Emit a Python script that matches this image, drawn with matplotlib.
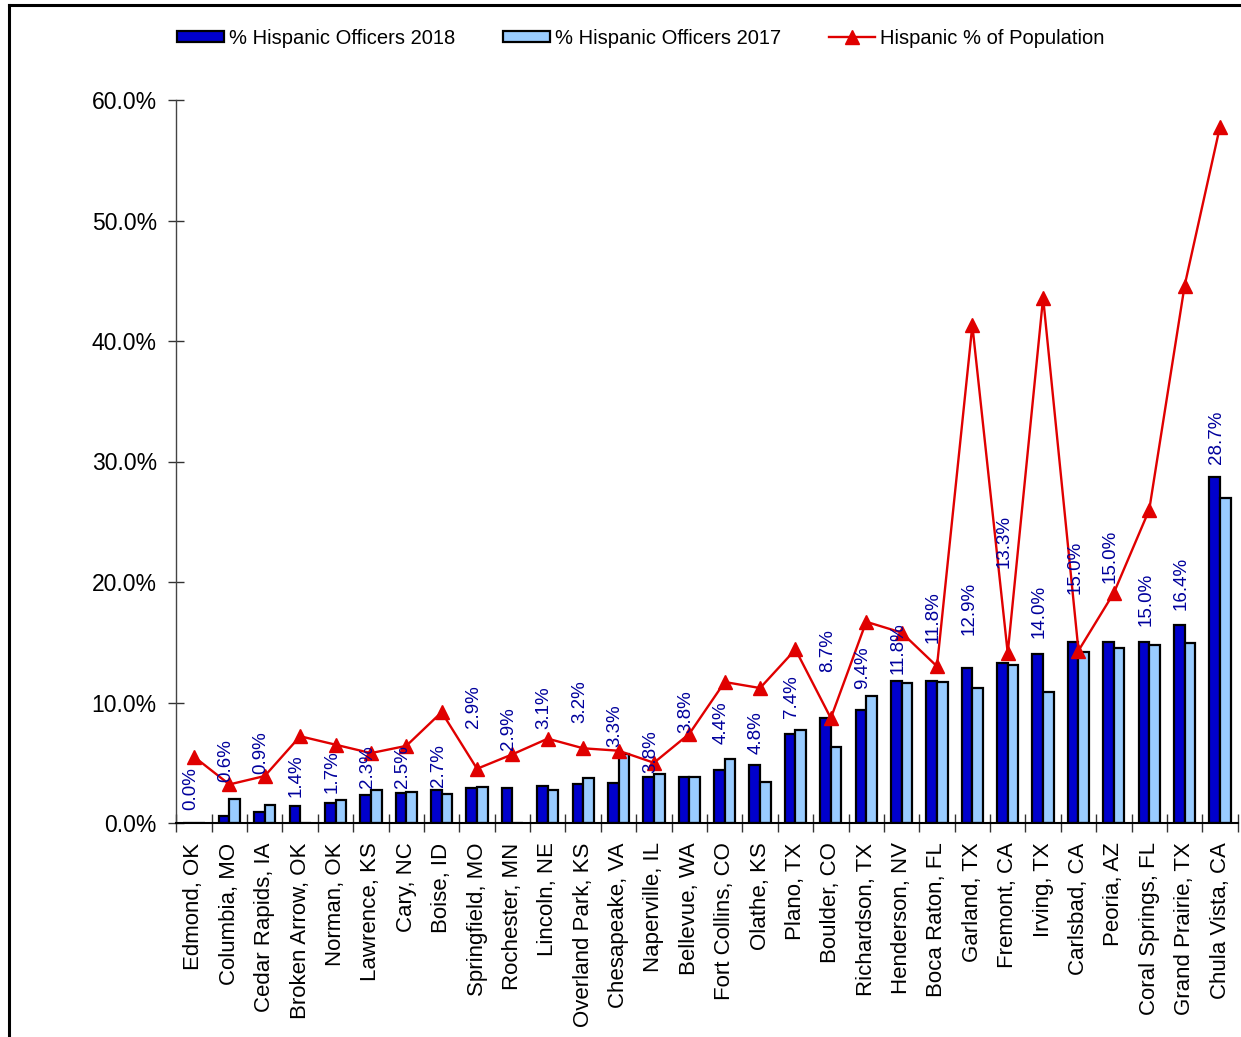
import numpy as np
import matplotlib
matplotlib.use('Agg')
import matplotlib.pyplot as plt
from matplotlib.lines import Line2D
from matplotlib.patches import Patch
from matplotlib.ticker import FuncFormatter, FixedLocator

plt.rcParams['font.family'] = ['Liberation Sans', 'DejaVu Sans']

# %%
# Data
cities = ['Edmond, OK', 'Columbia, MO', 'Cedar Rapids, IA', 'Broken Arrow, OK', 'Norman, OK',
          'Lawrence, KS', 'Cary, NC', 'Boise, ID', 'Springfield, MO', 'Rochester, MN',
          'Lincoln, NE', 'Overland Park, KS', 'Chesapeake, VA', 'Naperville, IL', 'Bellevue, WA',
          'Fort Collins, CO', 'Olathe, KS', 'Plano, TX', 'Boulder, CO', 'Richardson, TX',
          'Henderson, NV', 'Boca Raton, FL', 'Garland, TX', 'Fremont, CA', 'Irving, TX',
          'Carlsbad, CA', 'Peoria, AZ', 'Coral Springs, FL', 'Grand Prairie, TX', 'Chula Vista, CA']

officers_2018 = [0.0, 0.6, 0.9, 1.4, 1.7, 2.3, 2.5, 2.7, 2.9, 2.9,
                 3.1, 3.2, 3.3, 3.8, 3.8, 4.4, 4.8, 7.4, 8.7, 9.4,
                 11.8, 11.8, 12.9, 13.3, 14.0, 15.0, 15.0, 15.0, 16.4, 28.7]

officers_2017 = [0.0, 2.0, 1.5, 0.0, 1.9, 2.7, 2.6, 2.4, 3.0, 0.0,
                 2.7, 3.7, 5.7, 4.1, 3.8, 5.3, 3.4, 7.7, 6.3, 10.5,
                 11.6, 11.7, 11.2, 13.1, 10.9, 14.2, 14.5, 14.8, 14.9, 27.0]

population = [5.5, 3.2, 3.9, 7.2, 6.5, 5.8, 6.4, 9.2, 4.5, 5.7,
              7.0, 6.2, 6.0, 5.0, 7.4, 11.7, 11.2, 14.4, 8.7, 16.7,
              15.8, 13.0, 41.3, 14.1, 43.6, 14.3, 19.1, 26.0, 44.6, 57.8]

# label nudges above the 2018 bars (pixels), the original labels were moved by hand
label_lift_px = [13, 34, 38, 9, 10, 7, 5, 3, 60, 38,
                 57, 61, 36, 4, 44, 26, 11, 16, 46, 21,
                 7, 38, 33, 95, 16, 48, 59, 16, 15, 13]

# %%
dark_blue = '#0000CC'
light_blue = '#99CCFF'
red = '#E00000'
label_color = '#00009C'

fig = plt.figure(figsize=(12.41, 10.37), dpi=100)
ax = fig.add_axes([176.3 / 1241, 214 / 1037, (1237.7 - 176.3) / 1241, 723 / 1037])

x = np.arange(len(cities))
w = 0.3
ax.bar(x - w / 2, officers_2018, width=w, color=dark_blue, edgecolor='black', linewidth=1.6, zorder=2)
ax.bar(x + w / 2, officers_2017, width=w, color=light_blue, edgecolor='black', linewidth=1.6, zorder=2)
ax.plot(x, population, color=red, linewidth=1.7, marker='^', markersize=10, zorder=3)

# data labels for 2018
for i, v in enumerate(officers_2018):
    ax.annotate(f'{v:.1f}%', xy=(i - 0.1, v), xytext=(0, label_lift_px[i] * 0.72),
                textcoords='offset points', rotation=90, ha='center', va='bottom',
                fontsize=13.5, color=label_color, zorder=4)

ax.set_xlim(-0.5, len(cities) - 0.5)
ax.set_ylim(0, 60)
ax.yaxis.set_major_locator(FixedLocator(np.arange(0, 61, 10)))
ax.yaxis.set_major_formatter(FuncFormatter(lambda v, _: f'{v:.1f}%'))
ax.tick_params(axis='y', direction='inout', length=12, width=1, labelsize=16.5, pad=8, color='#333333')

ax.set_xticks(x)
ax.set_xticklabels(cities, rotation=90, fontsize=16, va='top', ha='center')
ax.set_xticks(np.arange(-0.5, len(cities), 1), minor=True)
ax.tick_params(axis='x', which='major', length=0, pad=14)
ax.tick_params(axis='x', which='minor', direction='inout', length=13, width=1, color='#333333')

for s in ['top', 'right']:
    ax.spines[s].set_visible(False)
ax.spines['left'].set_color('#444444')
ax.spines['left'].set_linewidth(1)
ax.spines['bottom'].set_color('black')
ax.spines['bottom'].set_linewidth(1.5)

# legend
handles = [Patch(facecolor=dark_blue, edgecolor='black', linewidth=1.6, label='% Hispanic Officers 2018'),
           Patch(facecolor=light_blue, edgecolor='black', linewidth=1.6, label='% Hispanic Officers 2017'),
           Line2D([0], [0], color=red, linewidth=1.7, marker='^', markersize=10, label='Hispanic % of Population')]
fig.legend(handles=handles, loc='center', bbox_to_anchor=(641 / 1241, 1 - 38 / 1037), ncol=3,
           frameon=False, fontsize=14.5, handlelength=2.3, handleheight=0.5,
           handletextpad=0.25, columnspacing=2.4)

# frame lines on the left and top edges of the picture
fig.add_artist(Line2D([9 / 1241, 9 / 1241], [0, 1 - 5 / 1037], color='black', linewidth=2.2,
                      transform=fig.transFigure))
fig.add_artist(Line2D([9 / 1241, 1], [1 - 5 / 1037, 1 - 5 / 1037], color='black', linewidth=2.2,
                      transform=fig.transFigure))

fig.savefig('out.png', dpi=100)
